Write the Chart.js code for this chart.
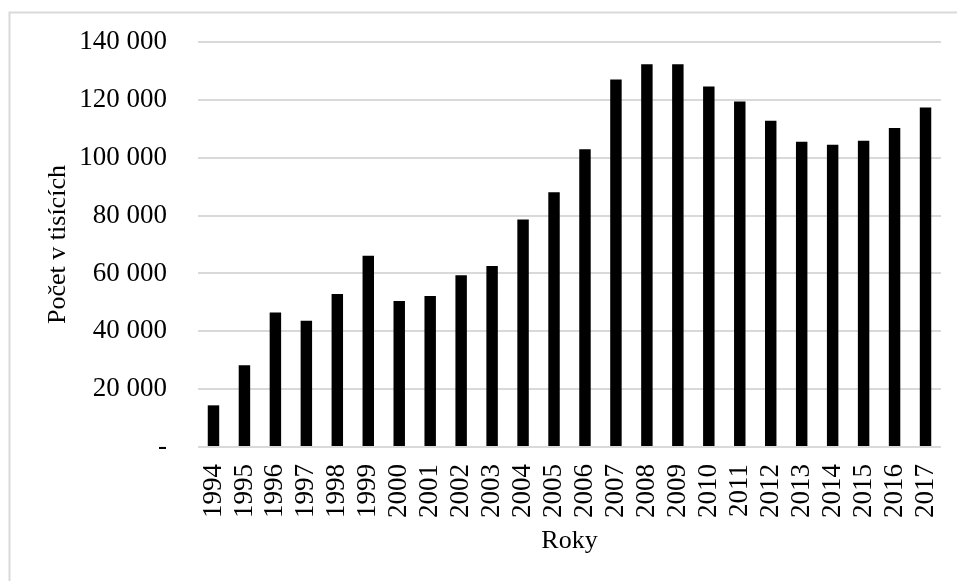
<!DOCTYPE html>
<html>
<head>
<meta charset="utf-8">
<script src="https://cdn.jsdelivr.net/npm/chart.js@4.4.1/dist/chart.umd.min.js"></script>
<style>
html,body{margin:0;padding:0;background:#fff;}
#wrap{width:957px;height:581px;position:relative;}
</style>
</head>
<body>
<div id="wrap"><canvas id="c" width="957" height="581"></canvas></div>
<script>
const categories = ["1994","1995","1996","1997","1998","1999","2000","2001","2002","2003","2004","2005","2006","2007","2008","2009","2010","2011","2012","2013","2014","2015","2016","2017"];
const values = [14400,28300,46500,43600,52900,66100,50500,52200,59400,62600,78600,88100,102900,127000,132300,132300,124600,119400,112800,105500,104500,105900,110300,117400];
const yTicks = [0,20000,40000,60000,80000,100000,120000,140000];
const yTitle = "Počet v tisících";
const xTitle = "Roky";

const FONT = "'Liberation Serif','Times New Roman',serif";

const borderPlugin = {
  id: 'outerBorder',
  beforeDraw(chart) {
    const ctx = chart.ctx;
    ctx.save();
    ctx.fillStyle = '#fff';
    ctx.fillRect(0,0,chart.width,chart.height);
    ctx.strokeStyle = '#d9d9d9';
    ctx.lineWidth = 2;
    ctx.beginPath();
    ctx.moveTo(9.5, chart.height + 5);
    ctx.lineTo(9.5, 12.5);
    ctx.lineTo(chart.width + 5, 12.5);
    ctx.stroke();
    ctx.restore();
  }
};

new Chart(document.getElementById('c'), {
  type: 'bar',
  data: {
    labels: categories,
    datasets: [{
      data: values,
      backgroundColor: '#000',
      borderWidth: 0,
      barPercentage: 0.37,
      categoryPercentage: 1.0
    }]
  },
  options: {
    responsive: false,
    animation: false,
    devicePixelRatio: 1,
    layout: { padding: { top: 42, right: 16, left: 0, bottom: 0 } },
    plugins: { legend: { display: false }, tooltip: { enabled: false } },
    scales: {
      x: {
        grid: { display: false, drawTicks: false },
        border: { display: false },
        ticks: {
          color: '#000',
          font: { family: FONT, size: 27 },
          minRotation: 90, maxRotation: 90,
          padding: 17,
          autoSkip: false
        },
        title: {
          display: true, text: xTitle, color: '#000',
          font: { family: FONT, size: 26 },
          padding: { top: 0, bottom: 24 }
        },
        afterFit(s) { s.height = 134; s.paddingLeft = 0; s.paddingRight = 0; }
      },
      y: {
        min: 0, max: 140000,
        afterBuildTicks(s) { s.ticks = yTicks.map(v => ({ value: v })); },
        grid: { color: '#d9d9d9', lineWidth: 2, drawTicks: false },
        border: { display: false },
        ticks: {
          color: '#000',
          font: { family: FONT, size: 27 },
          padding: 31,
          callback(v) {
            if (v === 0) return '-';
            return String(v).replace(/\B(?=(\d{3})+(?!\d))/g, ' ');
          }
        },
        title: {
          display: true, text: yTitle, color: '#000',
          font: { family: FONT, size: 26 },
          padding: { top: 43, bottom: 0 }
        },
        afterFit(s) { s.width = 198; s.paddingTop = 0; s.paddingBottom = 0; }
      }
    }
  },
  plugins: [borderPlugin]
});
</script>
</body>
</html>
